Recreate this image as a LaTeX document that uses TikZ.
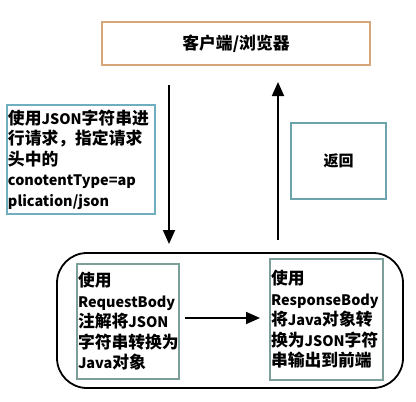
\documentclass[tikz,border=0pt]{standalone}
\usepackage{fontspec}
\setmainfont{Noto Sans CJK SC}
\newfontfamily\latfont{Noto Sans CJK SC}[Scale=0.86]
\newcommand\lt[1]{{\latfont #1}}
\usetikzlibrary{arrows.meta}
\definecolor{tanline}{HTML}{D6A676}
\definecolor{tealline}{HTML}{6FAEBE}
\definecolor{tealline2}{HTML}{6CA3AC}
\definecolor{grayteal}{HTML}{7D9F99}
\tikzset{
  boxbase/.style={rectangle, inner sep=1pt, font=\bfseries\fontsize{16.8}{20.5}\selectfont},
  clientbox/.style={boxbase, draw=tanline, line width=1.6pt},
  notebox/.style={boxbase, draw=tealline, line width=1.6pt, align=left},
  stepbox/.style={boxbase, draw=grayteal, line width=1.6pt, align=left},
  flow/.style={line width=1.8pt, -{Triangle[width=12pt,length=14pt]}},
}
\begin{document}
\begin{tikzpicture}[x=1pt,y=-1pt]
\useasboundingbox (0,0) rectangle (416,402);
\fill[white] (0,0) rectangle (416,402);

\node[clientbox, minimum width=268, minimum height=43] (client) at (236,43.5) {客户端/浏览器};

\node[notebox, minimum width=148, minimum height=109, text width=146] (req) at (81,159.5)
  {使用\lt{JSON}字符串进\\行请求，指定请求\\头中的\\\lt{conotentType=ap}\\\lt{plication/json}\\[-3pt]};

\node[notebox, draw=tealline2, font=\bfseries\fontsize{15}{18}\selectfont, minimum width=95, minimum height=76] (ret) at (338.5,161) {返回};

\draw[line width=1.8pt, rounded corners=30] (57,253) rectangle (403,388);
\node[inner sep=0, minimum width=346, minimum height=135] (server) at (230,320.5) {};

\node[stepbox, minimum width=102, minimum height=115, text width=100] (conv1) at (128,321.5)
  {使用\\\lt{RequestBody}\\注解将\lt{JSON}\\字符串转换为\\\lt{Java}对象};
\node[stepbox, minimum width=113, minimum height=121, text width=111] (conv2) at (326.5,319.5)
  {使用\\\lt{ResponseBody}\\将\lt{Java}对象转\\换为\lt{JSON}字符\\串输出到前端};

\coordinate (dtop) at (169,85);
\coordinate (dbot) at (169,244);
\coordinate (utop) at (278,82);
\coordinate (ubot) at (278,240);
\coordinate (hs) at (185,318);
\coordinate (he) at (260,318);
\draw[flow] (dtop) -- (dbot);
\draw[flow] (ubot) -- (utop);
\draw[flow] (hs) -- (he);
\end{tikzpicture}
\end{document}
